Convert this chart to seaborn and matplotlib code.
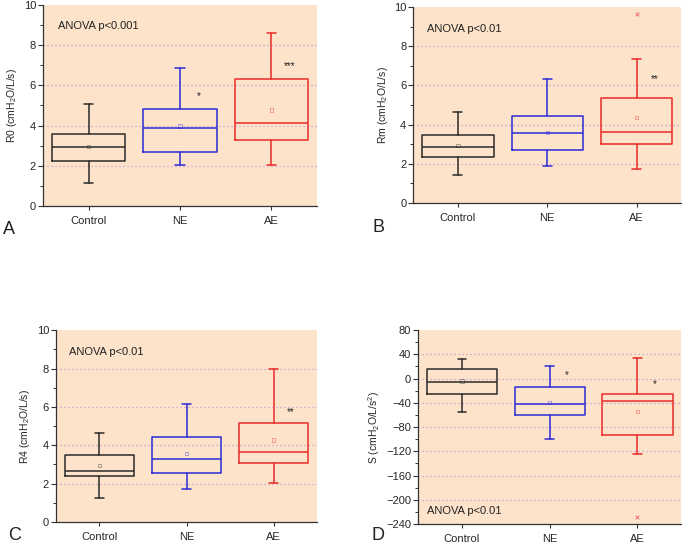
import matplotlib
matplotlib.use("Agg")
import matplotlib.pyplot as plt
from matplotlib.ticker import MultipleLocator
import seaborn as sns
import numpy as np

sns.set_theme(style="ticks")
plt.rcParams['font.family'] = ['Liberation Sans', 'DejaVu Sans']
plt.rcParams['mathtext.fontset'] = 'custom'
plt.rcParams['mathtext.rm'] = 'Liberation Sans'
plt.rcParams['mathtext.it'] = 'Liberation Sans'

groups = ["Control", "NE", "AE"]
colors = ["#2a2a2a", "#2b2bd6", "#ea2a2a"]

# A: R0
r0_low = [1.15, 2.03, 2.06]
r0_q1 = [2.26, 2.71, 3.27]
r0_med = [2.91, 3.89, 4.12]
r0_q3 = [3.60, 4.83, 6.30]
r0_high = [5.07, 6.84, 8.59]
r0_mean = [2.97, 3.97, 4.77]
r0_star = ["", "*", "***"]
r0_star_y = [0, 5.47, 6.96]

# B: Rm
rm_low = [1.44, 1.88, 1.71]
rm_q1 = [2.36, 2.68, 3.00]
rm_med = [2.86, 3.56, 3.63]
rm_q3 = [3.49, 4.44, 5.36]
rm_high = [4.63, 6.32, 7.34]
rm_mean = [2.93, 3.61, 4.37]
rm_star = ["", "", "**"]
rm_star_y = [0, 0, 6.31]
rm_out_group = ["AE"]
rm_out_val = [9.63]

# C: R4
r4_low = [1.27, 1.72, 2.05]
r4_q1 = [2.38, 2.56, 3.08]
r4_med = [2.68, 3.29, 3.67]
r4_q3 = [3.48, 4.42, 5.18]
r4_high = [4.66, 6.16, 8.00]
r4_mean = [2.96, 3.58, 4.28]
r4_star = ["", "", "**"]
r4_star_y = [0, 0, 5.74]

# D: S
s_low = [-55.7, -99.3, -124.0]
s_q1 = [-25.4, -60.7, -92.7]
s_med = [-6.0, -42.5, -37.0]
s_q3 = [15.4, -14.3, -24.8]
s_high = [32.0, 21.0, 34.2]
s_mean = [-3.9, -39.2, -54.0]
s_star = ["", "*", "*"]
s_star_y = [0, 6.1, -9.4]
s_out_group = ["AE"]
s_out_val = [-228.0]

fig = plt.figure(figsize=(6.82, 5.45), dpi=100)
bg = "#fce3ca"
grid_c = "#c39ad0"

def panel(rect, low, q1, med, q3, high, mean, stars, star_y, ylabel, ylim, major, minor,
          grid_vals, anova, anova_xy, letter, letter_xy, out_g=None, out_v=None):
    ax = fig.add_axes(rect)
    ax.set_facecolor(bg)
    for gv in grid_vals:
        ax.axhline(gv, color=grid_c, lw=0.9, ls=(0, (1, 2.2)), zorder=0)
    pos = np.arange(len(groups))
    for i in range(len(groups)):
        st = [dict(whislo=low[i], q1=q1[i], med=med[i], q3=q3[i], whishi=high[i], fliers=[])]
        c = colors[i]
        ax.bxp(st, positions=[pos[i]], widths=0.8, showfliers=False, manage_ticks=False,
               boxprops=dict(color=c, lw=1.1), medianprops=dict(color=c, lw=1.1),
               whiskerprops=dict(color=c, lw=1.1), capprops=dict(color=c, lw=1.1),
               capwidths=0.1)
    sns.scatterplot(x=groups, y=mean, hue=groups, palette=colors, marker="s", s=6,
                    linewidth=0.5, legend=False, ax=ax, zorder=5)
    for coll in ax.collections:
        coll.set_facecolor("none")
        coll.set_edgecolor([matplotlib.colors.to_rgba(c, 0.55) for c in colors])
    if out_g is not None:
        sns.scatterplot(x=out_g, y=out_v, marker="x", s=7, color="#ee5a5a",
                        linewidth=0.6, legend=False, ax=ax, zorder=5)
    for i, s in enumerate(stars):
        if s:
            ax.text(pos[i] + 0.2, star_y[i], s, ha="center", va="center", fontsize=7,
                    color="#222222")
    ax.set_xlim(-0.5, 2.5)
    ax.set_ylim(*ylim)
    ax.set_xticks(pos)
    ax.set_xticklabels(groups, fontsize=8)
    ax.yaxis.set_major_locator(MultipleLocator(major))
    ax.yaxis.set_minor_locator(MultipleLocator(minor))
    ax.tick_params(axis="y", labelsize=8, length=3.5, width=0.8, color="#333333", pad=1.5)
    ax.tick_params(axis="y", which="minor", length=2, width=0.7, color="#333333")
    ax.tick_params(axis="x", length=3, width=0.8, color="#333333", pad=4)
    for sp in ["top", "right"]:
        ax.spines[sp].set_visible(False)
    for sp in ["left", "bottom"]:
        ax.spines[sp].set_color("#333333")
        ax.spines[sp].set_linewidth(0.9)
    ax.set_ylabel(ylabel, fontsize=7.5, labelpad=3)
    ax.set_xlabel("")
    ax.text(anova_xy[0], anova_xy[1], anova, transform=ax.transAxes, fontsize=8,
            ha="left", va="center", color="#222222")
    fig.text(letter_xy[0], letter_xy[1], letter, fontsize=13, ha="left", va="center",
             color="#222222")
    return ax

panel([0.063, 0.622, 0.402, 0.369], r0_low, r0_q1, r0_med, r0_q3, r0_high, r0_mean,
      r0_star, r0_star_y, r"R0 (cmH$_2$O/L/s)", (0, 10), 2, 1, [2, 4, 6, 8],
      "ANOVA p<0.001", (0.055, 0.895), "A", (0.004, 0.578))
panel([0.606, 0.6275, 0.393, 0.3596], rm_low, rm_q1, rm_med, rm_q3, rm_high, rm_mean,
      rm_star, rm_star_y, r"Rm (cmH$_2$O/L/s)", (0, 10), 2, 1, [2, 4, 6, 8],
      "ANOVA p<0.01", (0.052, 0.888), "B", (0.546, 0.582), rm_out_group, rm_out_val)
panel([0.082, 0.0422, 0.383, 0.352], r4_low, r4_q1, r4_med, r4_q3, r4_high, r4_mean,
      r4_star, r4_star_y, r"R4 (cmH$_2$O/L/s)", (0, 10), 2, 1, [2, 4, 6, 8],
      "ANOVA p<0.01", (0.05, 0.885), "C", (0.012, 0.018))
panel([0.613, 0.0385, 0.386, 0.356], s_low, s_q1, s_med, s_q3, s_high, s_mean,
      s_star, s_star_y, r"S (cmH$_2$O/L/s$^2$)", (-240, 80), 40, 20,
      [40, 0, -40, -80, -120, -160, -200],
      "ANOVA p<0.01", (0.034, 0.067), "D", (0.545, 0.018), s_out_group, s_out_val)

fig.savefig("out.png", dpi=100, facecolor="white")
